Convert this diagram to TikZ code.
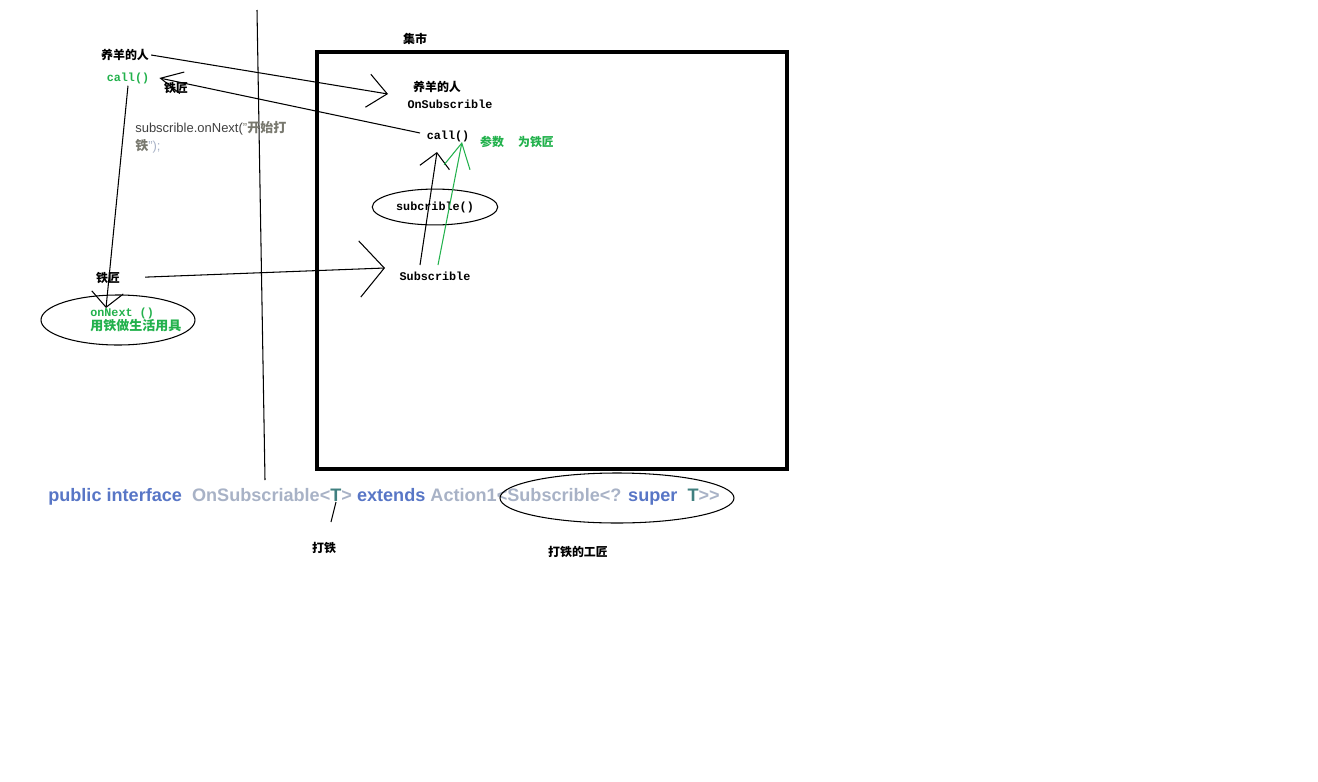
\documentclass[tikz,border=0pt]{standalone}
\usepackage{fontspec}
\setmainfont{Liberation Sans}
\setmonofont{Liberation Mono}
\newfontfamily\cjk{Noto Sans CJK SC}
\usetikzlibrary{arrows.meta,shapes.geometric}
\definecolor{paintgreen}{RGB}{34,177,76}
\definecolor{kwblue}{RGB}{88,118,198}
\definecolor{idgray}{RGB}{168,178,198}
\definecolor{tteal}{RGB}{64,128,128}
\definecolor{strgray}{RGB}{120,120,110}

\begin{document}
\begin{tikzpicture}[x=0.02cm, y=-0.02cm, line width=0.6pt]
\useasboundingbox (0,0) rectangle (1318,781);
\tikzstyle{every node} = [inner sep=1pt]
\tikzstyle{lbl} = [font=\cjk\bfseries\fontsize{6.8}{8}\selectfont]
\tikzstyle{code} = [font=\ttfamily\bfseries\fontsize{6.7}{8}\selectfont]
% divider and market box
\draw (257,10) -- (265,480);
\draw[line width=2.3pt] (317,52) rectangle (787,469);
\node[lbl] (8) at (415,39) {集市};
% left side
\node[lbl] (1) at (125,55) {养羊的人};
\node[code, text=paintgreen] (2) at (128,78) {call()};
\node[lbl] (3) at (176,88) {铁匠};
\node[anchor=north west, align=left, font=\fontsize{7.4}{10.2}\selectfont] (4) at (133,119)
  {\color{black!75}subscrible.onNext(\color{strgray}"{\cjk\bfseries 开始打}\\
   \color{strgray}{\cjk\bfseries 铁}\color{idgray}");};
\node[lbl] (5) at (108,278) {铁匠};
\draw (118,320) ellipse (77 and 25);
\node[code, text=paintgreen, anchor=north west, align=left] (7) at (88,306)
  {onNext ()\\{\cjk\fontsize{7.4}{8}\selectfont 用铁做生活用具}};
% inside the market
\node[lbl] (9) at (437,87) {养羊的人};
\node[code] (10) at (450,104) {OnSubscrible};
\node[code] (11) at (448,136) {call()};
\node[lbl, text=paintgreen] (12) at (492,142) {参数};
\node[lbl, text=paintgreen] (13) at (536,142) {为铁匠};
\node[code, draw, ellipse, minimum width=71.4pt, minimum height=20.4pt] (14) at (435,207) {subcrible()};
\node[code] (15) at (435,276) {Subscrible};
% interface line
\node[anchor=base west, font=\bfseries\fontsize{10.3}{12}\selectfont] (16) at (46,501)
  {\color{kwblue}public interface~ \color{idgray}OnSubscriable<\color{tteal}T\color{idgray}>
   \color{kwblue}extends \color{idgray}Action1<Subscrible<? \color{kwblue}super~ \color{tteal}T\color{idgray}>{}>};
\draw (617,498) ellipse (117 and 25);
\node[lbl] (17) at (324,548) {打铁};
\node[lbl] (18) at (578,552) {打铁的工匠};
% arrows
\coordinate (p1) at (388,94);
\coordinate (p3) at (106,308);
\coordinate (p4) at (385,268);
\coordinate (p5) at (437,152);
\coordinate (p6) at (462,142);
\coordinate (t) at (336,502);
\coordinate (tt) at (331,522);
\draw[-{Straight Barb[length=11pt,width=19pt]}] (1.east) -- (p1);
\draw[-{Straight Barb[length=12.5pt,width=12.5pt]}] (420,133) -- ([xshift=4.5pt]2.east);
\draw[-{Straight Barb[length=8.5pt,width=18pt]}] (2.south) -- (p3);
\draw[-{Straight Barb[length=14pt,width=32pt]}, shorten <=13pt] (5.east) -- (p4);
\draw[-{Straight Barb[length=8.5pt,width=17pt]}] (420,265) -- (p5);
\draw[paintgreen, -{Straight Barb[length=14pt,width=15pt]}] (438,265) -- (p6);
\draw (t) -- (tt);
\end{tikzpicture}
\end{document}
